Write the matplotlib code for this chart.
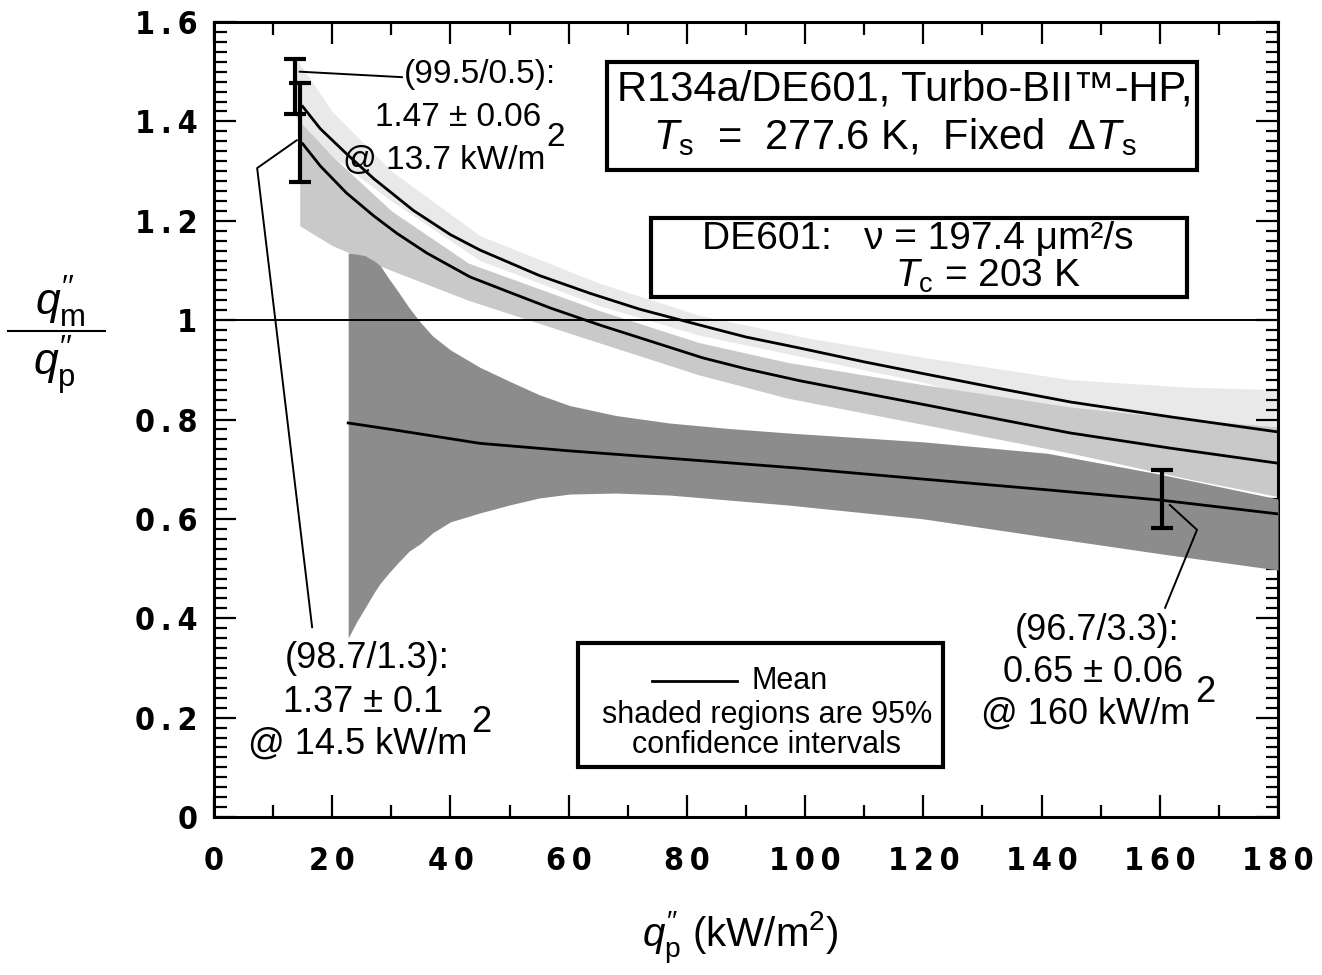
import numpy as np
import matplotlib
matplotlib.use('Agg')
import matplotlib.pyplot as plt
from matplotlib.patches import Rectangle
from matplotlib.lines import Line2D
from matplotlib.ticker import MultipleLocator, FuncFormatter

plt.rcParams['font.family'] = ['Liberation Sans', 'DejaVu Sans']
plt.rcParams['mathtext.fontset'] = 'custom'
plt.rcParams['mathtext.rm'] = 'Liberation Sans'
plt.rcParams['mathtext.it'] = 'Liberation Sans:italic'
plt.rcParams['mathtext.bf'] = 'Liberation Sans:bold'

# ---------------- data ----------------
# (99.5/0.5) mean curve
upper_x = [15, 18, 22.4, 27, 33.7, 40, 45, 55, 63.6, 72, 82.2, 90, 99, 110, 121, 133, 145, 162, 180]
upper_y = [1.43, 1.385, 1.335, 1.285, 1.221, 1.172, 1.141, 1.09, 1.054, 1.022, 0.99, 0.966, 0.944,
           0.916, 0.89, 0.862, 0.835, 0.805, 0.775]
# (99.5/0.5) confidence band
upper_band_x = [13.7, 20, 30, 45, 65, 82, 100, 120, 145, 165, 180]
upper_band_hi = [1.53, 1.42, 1.30, 1.17, 1.075, 1.01, 0.965, 0.925, 0.88, 0.865, 0.86]
upper_band_lo = [1.41, 1.33, 1.24, 1.12, 1.03, 0.97, 0.925, 0.875, 0.79, 0.73, 0.69]

# (98.7/1.3) mean curve
mid_x = [15, 18, 22.4, 27, 30.9, 36, 43.3, 50, 57, 65.3, 74, 82.7, 90, 99.1, 110, 121, 133, 144.8, 162, 180]
mid_y = [1.355, 1.31, 1.256, 1.21, 1.175, 1.135, 1.087, 1.056, 1.024, 0.99, 0.957, 0.924, 0.902, 0.878,
         0.853, 0.828, 0.80, 0.773, 0.742, 0.712]
# (98.7/1.3) confidence band
mid_band_x = [14.5, 20, 30, 43, 65, 82, 97, 120, 145, 165, 180]
mid_band_hi = [1.40, 1.33, 1.22, 1.115, 1.02, 0.955, 0.915, 0.87, 0.825, 0.80, 0.785]
mid_band_lo = [1.19, 1.15, 1.10, 1.04, 0.955, 0.89, 0.843, 0.79, 0.732, 0.68, 0.645]

# (96.7/3.3) mean curve
low_x = [22.7, 30, 45, 60, 77, 99, 120, 141.4, 160, 180]
low_y = [0.793, 0.78, 0.752, 0.737, 0.722, 0.702, 0.68, 0.658, 0.638, 0.61]
# (96.7/3.3) confidence band
low_band_x = [22.7, 24, 25.5, 27, 28.1, 29.5, 31, 33, 34.9, 37, 40, 45, 50, 55, 60.2, 68, 77, 87, 97,
              120, 141, 160, 180]
low_band_hi = [1.135, 1.133, 1.13, 1.12, 1.11, 1.085, 1.06, 1.025, 0.996, 0.968, 0.94, 0.905, 0.877,
               0.85, 0.828, 0.808, 0.793, 0.782, 0.773, 0.755, 0.732, 0.69, 0.64]
low_band_lo = [0.36, 0.39, 0.42, 0.45, 0.47, 0.49, 0.51, 0.535, 0.55, 0.572, 0.594, 0.612, 0.628,
               0.642, 0.65, 0.652, 0.648, 0.638, 0.628, 0.60, 0.563, 0.53, 0.497]

# error bars: x, y, half-width
err_x = [13.7, 14.5, 160.3]
err_y = [1.47, 1.377, 0.64]
err_e = [0.056, 0.1, 0.058]

x_ticks = [0, 20, 40, 60, 80, 100, 120, 140, 160, 180]
y_ticks = [0, 0.2, 0.4, 0.6, 0.8, 1.0, 1.2, 1.4, 1.6]

# ---------------- figure ----------------
W, H = 1322, 975
fig = plt.figure(figsize=(W / 100, H / 100), dpi=100)
L, R, T, B = 214, 1278, 22, 817
ax = fig.add_axes([L / W, 1 - B / H, (R - L) / W, (B - T) / H])


def fp(px, py):
    return (px / W, 1 - py / H)


ax.fill_between(upper_band_x, upper_band_lo, upper_band_hi, color='#e9e9e9', lw=0, zorder=1)
ax.fill_between(mid_band_x, mid_band_lo, mid_band_hi, color='#c9c9c9', lw=0, zorder=2)
ax.fill_between(low_band_x, low_band_lo, low_band_hi, color='#8c8c8c', lw=0, zorder=3)

ax.axhline(1.0, color='black', lw=1.4, zorder=4)
ax.plot(upper_x, upper_y, color='black', lw=2.0, zorder=5)
ax.plot(mid_x, mid_y, color='black', lw=2.0, zorder=5)
ax.plot(low_x, low_y, color='black', lw=2.0, zorder=5)

ax.errorbar(err_x, err_y, yerr=err_e, fmt='none', ecolor='black', elinewidth=3,
            capsize=8, capthick=3, zorder=6)

# leader lines
ax.plot([14.5, 31.8], [1.50, 1.489], color='black', lw=1.4, zorder=6)
ax.plot([14.0, 7.3, 16.6], [1.362, 1.306, 0.382], color='black', lw=1.4, zorder=6)
ax.plot([161.7, 166.3, 160.9], [0.628, 0.578, 0.421], color='black', lw=1.4, zorder=6)

ax.set_xlim(0, 180)
ax.set_ylim(0, 1.6)
ax.set_xticks(x_ticks)
ax.set_yticks(y_ticks)
ax.xaxis.set_minor_locator(MultipleLocator(10))
ax.yaxis.set_minor_locator(MultipleLocator(0.02))


def fmt(v, pos):
    return '\u2009'.join('%g' % round(v, 4))


ax.xaxis.set_major_formatter(FuncFormatter(fmt))
ax.yaxis.set_major_formatter(FuncFormatter(fmt))
ax.tick_params(which='both', direction='in', top=True, right=True, width=1.6, colors='black')
ax.tick_params(which='major', length=16)
ax.tick_params(which='minor', length=9)
ax.tick_params(axis='x', which='major', pad=21)
ax.tick_params(axis='y', which='major', pad=12)
for lab in ax.get_xticklabels() + ax.get_yticklabels():
    lab.set_family('DejaVu Sans')
    lab.set_stretch('condensed')
    lab.set_fontweight('bold')
    lab.set_fontsize(23)
for s in ax.spines.values():
    s.set_linewidth(2.2)

# axis labels
fig.text(*fp(740, 938), r'$q^{\prime\prime}_{\mathrm{p}}$ (kW/m$^2$)', ha='center', va='center', fontsize=29)
fig.text(*fp(60, 302), r'$q^{\prime\prime}_{\mathrm{m}}$', ha='center', va='center', fontsize=32)
fig.text(*fp(54, 366), r'$q^{\prime\prime}_{\mathrm{p}}$', ha='center', va='center', fontsize=32)
fig.add_artist(Line2D([8 / W, 105 / W], [1 - 331 / H, 1 - 331 / H], color='black', lw=1.5))

# annotation texts
ann = 26
fig.text(*fp(404, 75), '(99.5/0.5):', ha='left', va='center', fontsize=24)
fig.text(*fp(541, 118), '1.47 \u00b1 0.06', ha='right', va='center', fontsize=24)
fig.text(*fp(556, 138), '2', ha='center', va='center', fontsize=24)
fig.text(*fp(545, 160), '@ 13.7 kW/m', ha='right', va='center', fontsize=24)

fig.text(*fp(367, 659), '(98.7/1.3):', ha='center', va='center', fontsize=ann)
fig.text(*fp(363, 703), '1.37 \u00b1 0.1', ha='center', va='center', fontsize=ann)
fig.text(*fp(481, 722), '2', ha='center', va='center', fontsize=ann)
fig.text(*fp(358, 744), '@ 14.5 kW/m', ha='center', va='center', fontsize=ann)

fig.text(*fp(1097, 630), '(96.7/3.3):', ha='center', va='center', fontsize=ann)
fig.text(*fp(1093, 673), '0.65 \u00b1 0.06', ha='center', va='center', fontsize=ann)
fig.text(*fp(1205, 693), '2', ha='center', va='center', fontsize=ann)
fig.text(*fp(1086, 714), '@ 160 kW/m', ha='center', va='center', fontsize=ann)


# boxes
def box(x0, y0, x1, y1, lw=3.0):
    fig.add_artist(Rectangle(fp(x0, y1), (x1 - x0) / W, (y1 - y0) / H, transform=fig.transFigure,
                             facecolor='white', edgecolor='black', lw=lw, zorder=10))


box(607, 62, 1197, 170)
fig.text(*fp(905, 90), 'R134a/DE601, Turbo-BII\u2122-HP,', ha='center', va='center', fontsize=30, zorder=11)
fig.text(*fp(895, 137), r'$T_{\mathrm{s}}$  =  277.6 K,  Fixed  $\Delta T_{\mathrm{s}}$', ha='center', va='center',
         fontsize=30, zorder=11)

box(651, 218, 1187, 297)
fig.text(*fp(918, 239), 'DE601:   \u03bd = 197.4 \u03bcm\u00b2/s', ha='center', va='center', fontsize=28, zorder=11)
fig.text(*fp(988, 276), r'$T_{\mathrm{c}}$ = 203 K', ha='center', va='center', fontsize=28, zorder=11)

box(578, 643, 943, 767)
fig.add_artist(Line2D([652 / W, 737 / W], [1 - 681 / H, 1 - 681 / H], color='black', lw=2, zorder=11))
fig.text(*fp(752, 681), 'Mean', ha='left', va='center', fontsize=22, zorder=11)
fig.text(*fp(767, 715), 'shaded regions are 95%', ha='center', va='center', fontsize=22, zorder=11)
fig.text(*fp(767, 745), 'confidence intervals', ha='center', va='center', fontsize=22, zorder=11)

fig.savefig('out.png', dpi=100)
